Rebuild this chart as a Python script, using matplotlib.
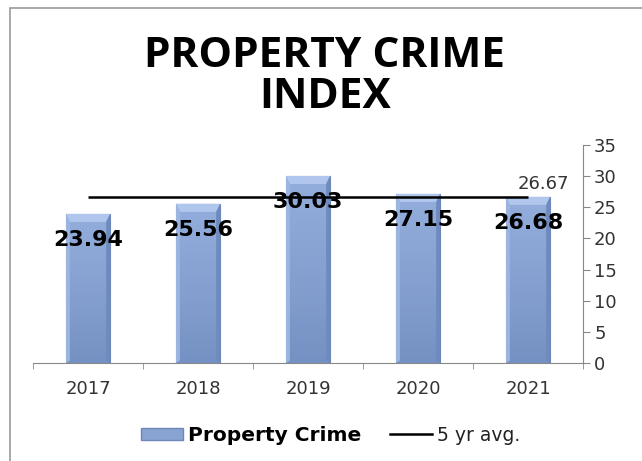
import numpy as np
import matplotlib
matplotlib.use("Agg")
import matplotlib.pyplot as plt
from matplotlib.patches import Rectangle, Patch, Polygon
from matplotlib.lines import Line2D

# Data
years = ["2017", "2018", "2019", "2020", "2021"]
crime = [23.94, 25.56, 30.03, 27.15, 26.68]
avg = [26.67, 26.67, 26.67, 26.67, 26.67]

plt.rcParams['font.family'] = ['DejaVu Sans']

fig = plt.figure(figsize=(6.42, 4.61), dpi=100)
fig.patches.append(Rectangle((10 / 642, -0.1), 1.2, (461 - 8) / 461 + 0.1, transform=fig.transFigure,
                             fill=False, edgecolor='#9a9a9a', lw=1.2))

ax = fig.add_axes([33 / 642, 1 - 363 / 461, 550 / 642, 218 / 461])
x = np.arange(len(years))
w = 0.4

# bars with a simple gradient + bevel look
grad = np.linspace(0, 1, 64).reshape(-1, 1)
cmap = matplotlib.colors.LinearSegmentedColormap.from_list("b", ["#7591c3", "#86a1d1", "#93aedc"])
for xi, v in zip(x, crime):
    r = Rectangle((xi - w / 2, 0), w, v, facecolor='#89a4d3', edgecolor='#6c88ba', lw=0.8, zorder=2)
    ax.add_patch(r)
    im = ax.imshow(grad, extent=(xi - w / 2, xi + w / 2, 0, v), origin='lower', cmap=cmap,
                   aspect='auto', zorder=2)
    im.set_clip_path(r)
    b = 0.035
    ax.add_patch(Polygon([(xi - w / 2, v), (xi + w / 2, v), (xi + w / 2 - b, v - 1.3),
                          (xi - w / 2 + b, v - 1.3)], closed=True, facecolor='#b0c6ec',
                         edgecolor='none', zorder=3))
    ax.add_patch(Polygon([(xi - w / 2, v), (xi - w / 2 + b, v - 1.3), (xi - w / 2 + b, 0.4),
                          (xi - w / 2, 0)], closed=True, facecolor='#9cb5e0', edgecolor='none', zorder=3))
    ax.add_patch(Polygon([(xi + w / 2, v), (xi + w / 2 - b, v - 1.3), (xi + w / 2 - b, 0.4),
                          (xi + w / 2, 0)], closed=True, facecolor='#6f8bbd', edgecolor='none', zorder=3))
    ax.annotate(f"{v:.2f}", (xi, v), xytext=(0, -19), textcoords='offset points',
                ha='center', va='center', fontsize=16, fontweight='bold', color='black', zorder=6)

# 5 yr avg line
ax.plot(x, avg, color='black', lw=1.8, zorder=4, solid_capstyle='butt')
ax.annotate(f"{avg[-1]:.2f}", (x[-1], avg[-1]), xytext=(11, 9), textcoords='offset points',
            ha='center', va='center', fontsize=13, color='#333333')

ax.set_xlim(-0.5, 4.5)
ax.set_ylim(0, 35)
ax.set_xticks(x)
ax.set_xticklabels(years, fontsize=13, color='#333333')
ax.set_xticks(np.arange(-0.5, 5, 1), minor=True)
ax.tick_params(axis='x', which='major', length=0, pad=12)
ax.tick_params(axis='x', which='minor', length=4, color='#888888', direction='out')
ax.yaxis.tick_right()
ax.set_yticks(range(0, 36, 5))
ax.tick_params(axis='y', labelsize=13, labelcolor='#333333', length=5, color='#888888', pad=3)
for s in ['top', 'left']:
    ax.spines[s].set_visible(False)
for s in ['bottom', 'right']:
    ax.spines[s].set_color('#888888')
ax.spines['bottom'].set_zorder(5)

fig.text(0.506, 1 - 77 / 461, "PROPERTY CRIME\nINDEX", ha='center', va='center',
         fontsize=30.5, fontweight='bold', family='Open Sans', linespacing=1.02)

handles = [Patch(facecolor='#89a4d3', edgecolor='#6c88ba'),
           Line2D([0], [0], color='black', lw=1.8)]
leg = fig.legend(handles, ["Property Crime", "5 yr avg."], loc='center',
                 bbox_to_anchor=(331 / 642, 1 - 435 / 461), ncol=2, frameon=False,
                 fontsize=13, handlelength=2.3, handleheight=0.6, handletextpad=0.3, columnspacing=1.6)
leg.get_texts()[0].set_fontweight('bold')
leg.get_texts()[0].set_fontsize(14.5)
leg.get_texts()[1].set_fontsize(13.5)
leg.get_texts()[1].set_color('#222222')

fig.savefig("out.png", dpi=100)
